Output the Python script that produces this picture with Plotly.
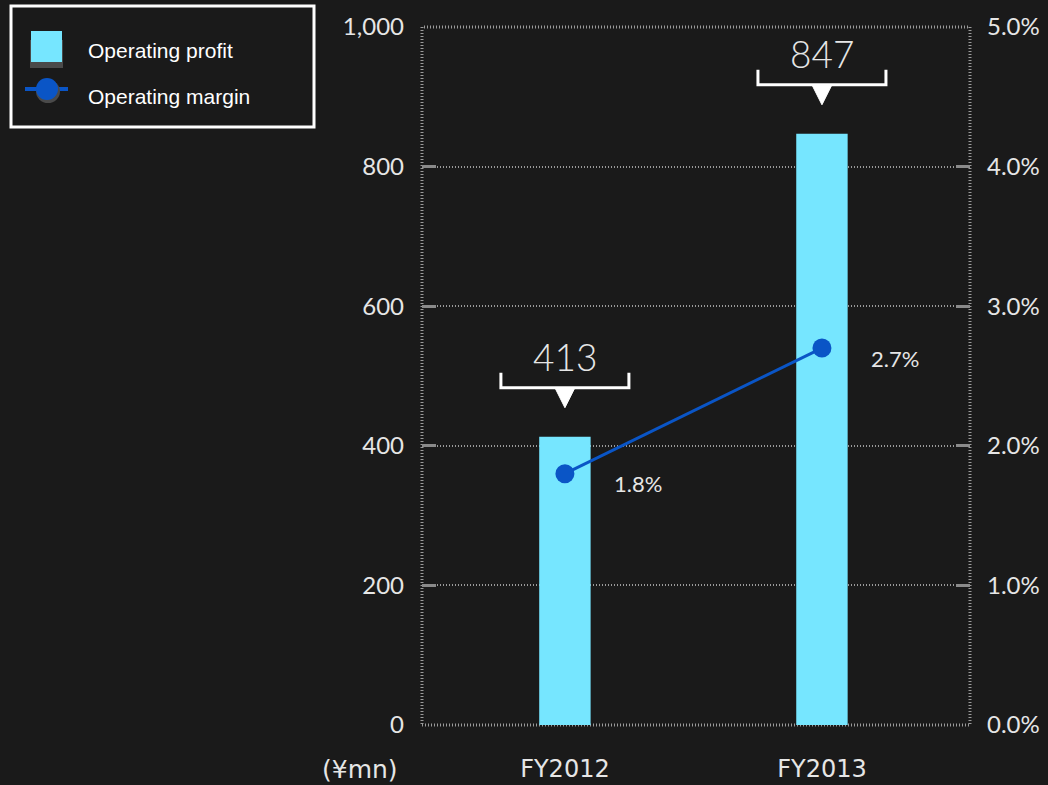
import plotly.graph_objects as go

# Fiscal years and results
categories = ["FY2012", "FY2013"]
operating_profit = [413, 847]        # ¥mn
operating_margin = [1.8, 2.7]        # %

profit_ticks = [0, 200, 400, 600, 800, 1000]
profit_tick_text = ["0", "200", "400", "600", "800", "1,000"]
margin_ticks = [0, 1, 2, 3, 4, 5]
margin_tick_text = ["0.0%", "1.0%", "2.0%", "3.0%", "4.0%", "5.0%"]

BG = "#1a1a1a"
BAR = "#76e6ff"
LINE = "#0a55c6"
TEXT = "#e6e6e6"
GRID = "#9a9a9a"
TICK_FONT = "Lato"

xs = list(range(len(categories)))

fig = go.Figure()

fig.add_trace(go.Bar(
    x=xs, y=operating_profit, name="Operating profit",
    marker=dict(color=BAR, line=dict(width=0)), width=0.2,
    showlegend=False, hoverinfo="y",
))

fig.add_trace(go.Scatter(
    x=xs, y=operating_margin, name="Operating margin", yaxis="y2",
    mode="lines+markers",
    line=dict(color=LINE, width=3),
    marker=dict(color=LINE, size=19),
    showlegend=False,
))

shapes = []
annotations = []

# Callout bracket with pointer above each bar
for xi, v in zip(xs, operating_profit):
    shapes.append(dict(
        type="path", xref="x", yref="y",
        xsizemode="pixel", ysizemode="pixel", xanchor=xi, yanchor=v,
        path="M -64 64 L -64 49 L 64 49 L 64 64",
        line=dict(color="white", width=3), fillcolor="rgba(0,0,0,0)",
        layer="above",
    ))
    shapes.append(dict(
        type="path", xref="x", yref="y",
        xsizemode="pixel", ysizemode="pixel", xanchor=xi, yanchor=v,
        path="M -10 49 L 10 49 L 0 29 Z",
        line=dict(color="white", width=1), fillcolor="white",
        layer="above",
    ))
    annotations.append(dict(
        x=xi, y=v, xref="x", yref="y", yshift=80,
        text=f"{v:,}", showarrow=False,
        font=dict(family=TICK_FONT, size=37, color=TEXT, weight=300),
    ))

# Margin value labels
for xi, m in zip(xs, operating_margin):
    annotations.append(dict(
        x=xi, y=m, xref="x", yref="y2", xshift=73, yshift=-10,
        text=f"{m:.1f}%", showarrow=False,
        font=dict(family=TICK_FONT, size=22, color=TEXT),
    ))

# Dotted plot frame
shapes.append(dict(
    type="rect", xref="paper", yref="paper", x0=0, x1=1, y0=0, y1=1,
    line=dict(color=GRID, width=3, dash="1px,2px"), layer="below",
))

# Page geometry used for the legend box and unit label
W, H = 1048, 785
ML, MR, MT, MB = 422, 78, 27, 60
PW, PH = W - ML - MR, H - MT - MB


def px(x):
    return (x - ML) / PW


def py(y):
    return (H - MB - y) / PH


# Unit label
annotations.append(dict(
    x=px(360), y=py(769), xref="paper", yref="paper", text="(¥mn)",
    xanchor="center", yanchor="middle", showarrow=False,
    font=dict(family="DejaVu Sans", size=25, color=TEXT),
))

# Legend box
shapes += [
    dict(type="rect", xref="paper", yref="paper",
         x0=px(11), x1=px(314), y0=py(127), y1=py(6),
         line=dict(color="white", width=3), fillcolor=BG),
    dict(type="rect", xref="paper", yref="paper",
         x0=px(30), x1=px(63), y0=py(68), y1=py(40),
         line=dict(width=0), fillcolor="#4a4a4a"),
    dict(type="rect", xref="paper", yref="paper",
         x0=px(31), x1=px(62), y0=py(62), y1=py(31),
         line=dict(width=0), fillcolor=BAR),
    dict(type="line", xref="paper", yref="paper",
         x0=px(25), x1=px(68), y0=py(89), y1=py(89),
         line=dict(color=LINE, width=4)),
    dict(type="circle", xref="paper", yref="paper",
         x0=px(36), x1=px(60), y0=py(103), y1=py(80),
         line=dict(width=0), fillcolor="#4a4a4a"),
    dict(type="circle", xref="paper", yref="paper",
         x0=px(36), x1=px(58), y0=py(100), y1=py(78),
         line=dict(width=0), fillcolor=LINE),
]
for label, ycen in [("Operating profit", 50), ("Operating margin", 96)]:
    annotations.append(dict(
        x=px(86), y=py(ycen), xref="paper", yref="paper",
        xanchor="left", yanchor="middle", text=label, showarrow=False,
        font=dict(family="Liberation Sans", size=21, color="white"),
    ))

fig.update_layout(
    width=W, height=H,
    paper_bgcolor=BG, plot_bgcolor=BG,
    margin=dict(l=ML, r=MR, t=MT, b=MB, pad=0, autoexpand=False),
    showlegend=False,
    shapes=shapes, annotations=annotations,
    xaxis=dict(
        range=[-0.556, 1.576], tickvals=xs, ticktext=categories,
        showgrid=False, zeroline=False, showline=False, ticks="",
        ticklabelstandoff=27, automargin=False,
        tickfont=dict(family="DejaVu Sans", size=24, color=TEXT),
        fixedrange=True,
    ),
    yaxis=dict(
        range=[0, 1000], tickvals=profit_ticks, ticktext=profit_tick_text,
        showgrid=True, gridcolor=GRID, gridwidth=2, griddash="1px,2px",
        zeroline=False, showline=False, automargin=False,
        ticks="inside", ticklen=14, tickwidth=3, tickcolor="#8a8a8a",
        ticklabelstandoff=17,
        tickfont=dict(family=TICK_FONT, size=24, color=TEXT),
    ),
    yaxis2=dict(
        range=[0, 5], tickvals=margin_ticks, ticktext=margin_tick_text,
        overlaying="y", side="right", automargin=False,
        showgrid=False, zeroline=False, showline=False,
        ticks="inside", ticklen=14, tickwidth=3, tickcolor="#8a8a8a",
        ticklabelstandoff=16,
        tickfont=dict(family=TICK_FONT, size=24, color=TEXT),
    ),
)

fig.write_html("out.html")
